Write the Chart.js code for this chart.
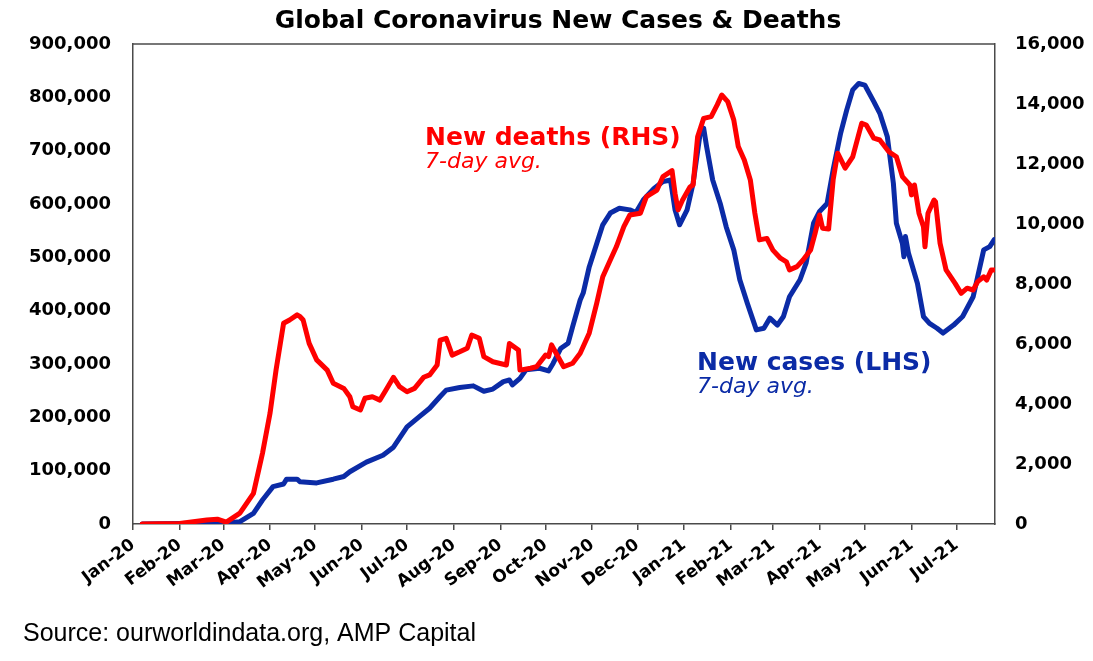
<!DOCTYPE html>
<html>
<head>
<meta charset="utf-8">
<script src="https://cdn.jsdelivr.net/npm/chart.js@4.4.0/dist/chart.umd.min.js"></script>
<style>
  html, body { margin: 0; padding: 0; background: #ffffff; }
  #wrap { position: relative; width: 1093px; height: 661px; }
</style>
</head>
<body>
<div id="wrap"><canvas id="c"></canvas></div>
<script>
// ---- Data (day offsets from 1 Jan 2020) ----
const monthDays = [0, 31, 60, 91, 121, 152, 182, 213, 244, 274, 305, 335, 366, 397, 425, 456, 486, 517, 547];
const monthLabels = ["Jan-20","Feb-20","Mar-20","Apr-20","May-20","Jun-20","Jul-20","Aug-20","Sep-20","Oct-20","Nov-20","Dec-20","Jan-21","Feb-21","Mar-21","Apr-21","May-21","Jun-21","Jul-21"];

const caseDays = [6,31,49,62,71,80,86,93,100,102,109,111,122,133,140,144,155,166,173,182,190,197,204,208,217,226,233,239,246,250,252,257,261,270,276,279,284,289,292,297,299,303,308,312,317,323,330,334,339,346,352,357,360,363,368,372,377,379,381,383,385,390,394,399,403,408,414,419,423,428,432,436,443,447,452,456,461,465,470,474,478,482,486,492,496,501,505,507,511,512,513,515,521,525,529,534,538,545,551,558,565,569,572];
const newCases = [0,1000,1500,2000,4300,20000,45000,70000,75000,84000,84000,79000,77000,84000,89000,98000,116000,129000,144000,182000,201000,217000,239000,251000,256000,259000,249000,253000,267000,270000,261000,273000,289000,292000,287000,301000,329000,339000,370000,420000,433000,482000,526000,561000,583000,592000,589000,584000,608000,629000,642000,645000,589000,561000,589000,639000,739000,742000,707000,676000,645000,601000,557000,514000,458000,414000,364000,367000,386000,373000,389000,426000,458000,489000,564000,586000,601000,664000,733000,776000,814000,826000,823000,792000,770000,726000,639000,564000,526000,501000,539000,508000,451000,389000,376000,367000,358000,373000,389000,426000,514000,520000,533000];

const deathDays = [6,31,49,56,62,71,80,86,91,95,100,104,109,111,113,117,122,129,133,140,144,146,151,154,159,164,168,173,177,182,187,193,197,202,204,208,212,217,222,225,230,233,239,248,250,256,257,264,268,274,276,278,281,286,292,297,303,308,312,317,321,326,330,337,341,348,352,358,360,362,365,370,372,375,379,384,388,391,395,399,402,406,410,413,416,421,425,430,434,436,441,445,450,453,456,458,462,465,468,473,478,484,487,492,496,502,507,511,516,517,519,522,525,526,528,532,533,536,540,546,550,554,558,561,565,567,570,572];
const newDeaths = [0,20,130,160,60,360,1020,2360,3690,5130,6690,6800,6970,6910,6800,6020,5470,5130,4690,4520,4240,3910,3800,4190,4240,4130,4470,4890,4580,4410,4520,4890,4970,5300,6130,6190,5630,5740,5860,6300,6190,5580,5410,5300,6020,5800,5130,5190,5240,5630,5580,5970,5690,5240,5360,5690,6360,7360,8240,8800,9240,9910,10300,10360,10910,11130,11580,11780,11020,10470,10800,11240,11300,12910,13520,13580,13970,14300,14080,13470,12580,12130,11470,10360,9470,9520,9130,8860,8740,8470,8580,8800,9130,9690,10300,9860,9830,11470,12360,11860,12240,13360,13300,12860,12800,12410,12240,11580,11300,10970,11300,10360,9910,9240,10360,10800,10740,9360,8470,8020,7690,7860,7800,8080,8240,8130,8470,8470];

const titleText = "Global Coronavirus New Cases & Deaths";
const sourceText = "Source: ourworldindata.org, AMP Capital";

// ---- Styles ----
const RED = "#FF0000";
const BLUE = "#0B2BA6";
const AXIS = "#4a4a4a";
const BOLD = "'DejaVu Sans'";

function fmt(v) {
  return String(Math.round(v)).replace(/\B(?=(\d{3})+(?!\d))/g, ",");
}

const framePlugin = {
  id: "frame",
  afterDatasetsDraw(chart) {
    const a = chart.chartArea, ctx = chart.ctx;
    ctx.save();
    ctx.strokeStyle = AXIS;
    ctx.lineWidth = 1.5;
    ctx.beginPath();
    ctx.moveTo(a.left, a.top);
    ctx.lineTo(a.right, a.top);
    ctx.stroke();
    ctx.restore();
  }
};

const textPlugin = {
  id: "texts",
  afterDraw(chart) {
    const ctx = chart.ctx;
    ctx.save();
    ctx.textBaseline = "alphabetic";
    ctx.textAlign = "center";
    ctx.fillStyle = "#000";
    ctx.font = "bold 25px " + BOLD;
    ctx.fillText(titleText, 558, 28);
    ctx.textAlign = "left";
    ctx.fillStyle = RED;
    ctx.font = "bold 25px " + BOLD;
    ctx.fillText("New deaths (RHS)", 425, 145);
    ctx.font = "italic 22px " + BOLD;
    ctx.fillText("7-day avg.", 425, 168);
    ctx.fillStyle = BLUE;
    ctx.font = "bold 25px " + BOLD;
    ctx.fillText("New cases (LHS)", 697, 370);
    ctx.font = "italic 22px " + BOLD;
    ctx.fillText("7-day avg.", 697, 393);
    ctx.fillStyle = "#000";
    ctx.font = "25px 'Liberation Sans'";
    ctx.fillText(sourceText, 23, 641);
    ctx.restore();
  }
};

const deathsData = deathDays.map((d, i) => ({ x: d, y: newDeaths[i] }));
const casesData = caseDays.map((d, i) => ({ x: d, y: newCases[i] }));

new Chart(document.getElementById("c"), {
  type: "line",
  data: {
    datasets: [
      {
        label: "New deaths (RHS)",
        data: deathsData,
        yAxisID: "yR",
        borderColor: RED,
        borderWidth: 5,
        pointRadius: 0,
        tension: 0,
        borderJoinStyle: "round",
        borderCapStyle: "round"
      },
      {
        label: "New cases (LHS)",
        data: casesData,
        yAxisID: "yL",
        borderColor: BLUE,
        borderWidth: 5,
        pointRadius: 0,
        tension: 0,
        borderJoinStyle: "round",
        borderCapStyle: "round"
      }
    ]
  },
  options: {
    responsive: true,
    maintainAspectRatio: false,
    animation: false,
    layout: { padding: { top: 44, left: 0, right: 0, bottom: 0 } },
    plugins: {
      legend: { display: false },
      tooltip: { enabled: false },
      title: { display: false }
    },
    scales: {
      x: {
        type: "linear",
        min: 0,
        max: 572.5,
        afterBuildTicks: (s) => { s.ticks = monthDays.map(v => ({ value: v })); },
        afterFit: (s) => { s.height = 137; },
        ticks: {
          autoSkip: false,
          maxRotation: 37,
          minRotation: 37,
          padding: 5,
          color: "#000",
          font: { family: BOLD, weight: "bold", size: 17 },
          callback: (v, i) => monthLabels[i]
        },
        grid: { drawOnChartArea: false, drawTicks: true, tickLength: 6, color: AXIS, lineWidth: 1.5 },
        border: { display: true, color: AXIS, width: 1.5 }
      },
      yL: {
        type: "linear",
        position: "left",
        min: 0,
        max: 900000,
        afterFit: (s) => { s.width = 133; },
        ticks: {
          stepSize: 100000,
          padding: 22,
          color: "#000",
          font: { family: BOLD, weight: "bold", size: 18 },
          callback: (v) => fmt(v)
        },
        grid: { display: false, drawTicks: false },
        border: { display: true, color: AXIS, width: 1.5 }
      },
      yR: {
        type: "linear",
        position: "right",
        min: 0,
        max: 16000,
        afterFit: (s) => { s.width = 98; },
        ticks: {
          stepSize: 2000,
          padding: 20,
          color: "#000",
          font: { family: BOLD, weight: "bold", size: 18 },
          callback: (v) => fmt(v)
        },
        grid: { display: false, drawTicks: false },
        border: { display: true, color: AXIS, width: 1.5 }
      }
    }
  },
  plugins: [framePlugin, textPlugin]
});
</script>
</body>
</html>
